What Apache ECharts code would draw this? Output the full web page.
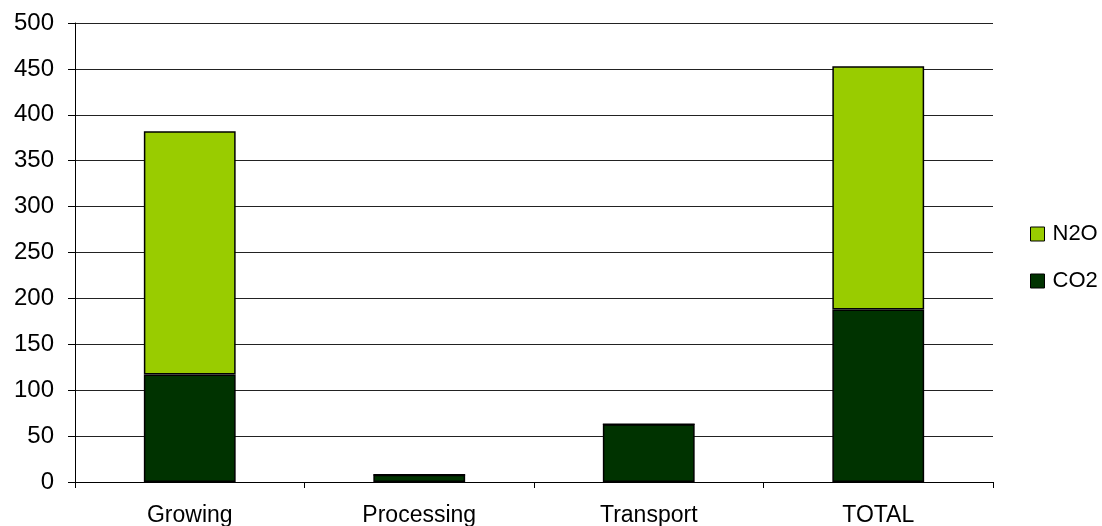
<!DOCTYPE html>
<html>
<head>
<meta charset="utf-8">
<script src="https://cdn.jsdelivr.net/npm/echarts@6/dist/echarts.min.js"></script>
<style>
  html, body { margin: 0; padding: 0; background: #fff; }
  #chart { width: 1102px; height: 526px; }
</style>
</head>
<body>
<div id="chart"></div>
<script>
// Emissions by stage, stacked by gas
const categories = ['Growing', 'Processing', 'Transport', 'TOTAL'];
const co2 = [117, 8, 63, 188];
const n2o = [265, 0, 0, 265];
const legendOrder = ['N2O', 'CO2'];

const FONT = '"Liberation Sans", Arial, sans-serif';
const barBorder = { borderColor: '#000', borderWidth: 1.5 };

const chart = echarts.init(document.getElementById('chart'), null, { renderer: 'canvas' });
chart.setOption({
  animation: false,
  backgroundColor: '#fff',
  grid: {
    left: 75, right: 109, top: 23, bottom: 44,
    containLabel: false,
    outerBoundsMode: 'none'
  },
  legend: {
    data: legendOrder,
    orient: 'vertical',
    left: 1030,
    top: 223,
    padding: 0,
    itemWidth: 14,
    itemHeight: 14,
    itemGap: 25,
    icon: 'rect',
    itemStyle: { borderColor: '#000', borderWidth: 1 },
    textStyle: { fontFamily: FONT, fontSize: 22, lineHeight: 14, color: '#000', padding: [0, 0, 0, 3] }
  },
  xAxis: {
    type: 'category',
    data: categories,
    axisLine: { lineStyle: { color: '#000', width: 1 } },
    axisTick: { show: true, length: 6, lineStyle: { color: '#000' } },
    axisLabel: { fontFamily: FONT, fontSize: 23, lineHeight: 23, color: '#000', margin: 22 }
  },
  yAxis: {
    type: 'value',
    min: 0,
    max: 500,
    interval: 50,
    axisLine: { show: true, lineStyle: { color: '#000', width: 1 } },
    axisTick: { show: true, length: 7, lineStyle: { color: '#000' } },
    axisLabel: { fontFamily: FONT, fontSize: 24, color: '#000', margin: 21 },
    splitLine: { show: true, lineStyle: { color: '#222', width: 1 } }
  },
  series: [
    {
      name: 'CO2',
      type: 'bar',
      stack: 'gas',
      data: co2,
      barWidth: '40%',
      itemStyle: Object.assign({ color: '#003300' }, barBorder)
    },
    {
      name: 'N2O',
      type: 'bar',
      stack: 'gas',
      data: n2o,
      barWidth: '40%',
      itemStyle: Object.assign({ color: '#99CC00' }, barBorder)
    }
  ]
});
</script>
</body>
</html>
